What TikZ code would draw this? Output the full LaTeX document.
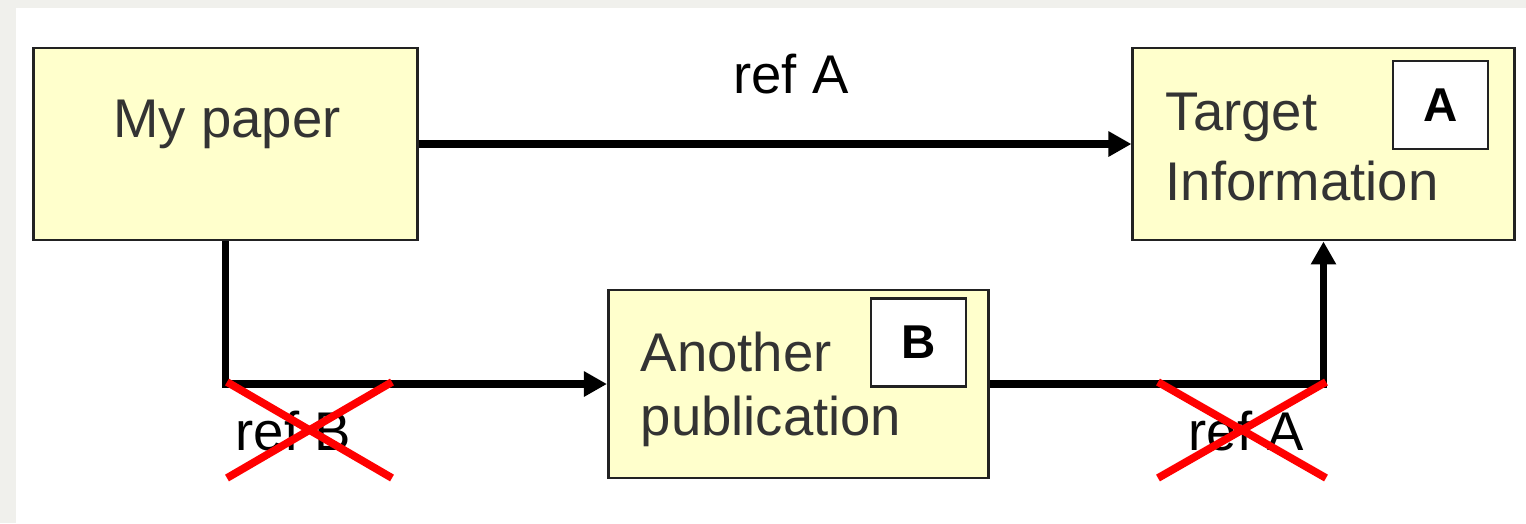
\documentclass[tikz,border=0pt]{standalone}
\usepackage{fontspec}
\setmainfont{Liberation Sans}
\usetikzlibrary{arrows.meta}
\definecolor{paperbg}{RGB}{240,240,236}
\definecolor{boxfill}{RGB}{255,255,204}
\definecolor{boxline}{RGB}{34,34,34}
\definecolor{boxtext}{RGB}{51,51,51}
\definecolor{crossred}{RGB}{255,0,0}
\tikzset{
  docbox/.style={draw=boxline, line width=0.8pt, fill=boxfill, inner sep=0pt},
  tagbox/.style={draw=boxline, line width=0.8pt, fill=white, inner sep=0pt,
                 minimum width=0.95cm, minimum height=0.88cm,
                 font=\fontsize{13.5pt}{16pt}\selectfont\bfseries},
  doctext/.style={inner sep=0pt, text=boxtext, font=\fontsize{15.5pt}{18pt}\selectfont},
  reflabel/.style={inner sep=0pt, text=black, font=\fontsize{15.5pt}{18pt}\selectfont},
  link/.style={line width=2pt, line join=miter, -{Triangle[length=0.23cm, width=0.24cm]}},
  cross/.style={draw=crossred, line width=2.2pt}
}
\begin{document}
\begin{tikzpicture}[x=0.01cm, y=-0.01cm]
  % page and margins
  \fill[paperbg] (0,0) rectangle (1526,523);
  \fill[white] (16,8) rectangle (1526,523);
  \useasboundingbox (0,0) rectangle (1526,523);

  % documents
  \node[docbox, minimum width=3.83cm, minimum height=1.92cm] (paper) at (225.5,144) {};
  \node[doctext, anchor=base] (papertxt) at (227,137) {My paper};

  \node[docbox, minimum width=3.81cm, minimum height=1.92cm] (target) at (1323.5,144) {};
  \node[doctext, anchor=base west] (targettxt1) at (1165,130) {Target};
  \node[doctext, anchor=base west] (targettxt2) at (1165,200) {Information};
  \node[tagbox] (taga) at (1440.5,105) {A};

  \node[docbox, minimum width=3.80cm, minimum height=1.88cm] (another) at (798.5,384) {};
  \node[doctext, anchor=base west] (anothertxt1) at (640,371) {Another};
  \node[doctext, anchor=base west] (anothertxt2) at (640,435) {publication};
  \node[tagbox] (tagb) at (918.5,342.5) {B};

  % references
  \draw[link] (paper.east) -- (target.west);
  \node[reflabel, anchor=base] (refa) at (791,93) {ref A};

  \coordinate (c1) at (paper.south |- another.west);
  \coordinate (c2) at (target.south |- another.east);
  \draw[link] (paper.south) -- (c1) -- (another.west);
  \draw[link] (another.east) -- (c2) -- (target.south);

  % broken references
  \node[reflabel, anchor=base west] (refb) at (235,450) {ref B};
  \node[reflabel, anchor=base west] (refa2) at (1188,450) {ref A};
  \draw[cross] (227,382) -- (392,478);
  \draw[cross] (227,478) -- (392,382);
  \draw[cross] (1158,382) -- (1326,478);
  \draw[cross] (1158,478) -- (1326,382);
\end{tikzpicture}
\end{document}
